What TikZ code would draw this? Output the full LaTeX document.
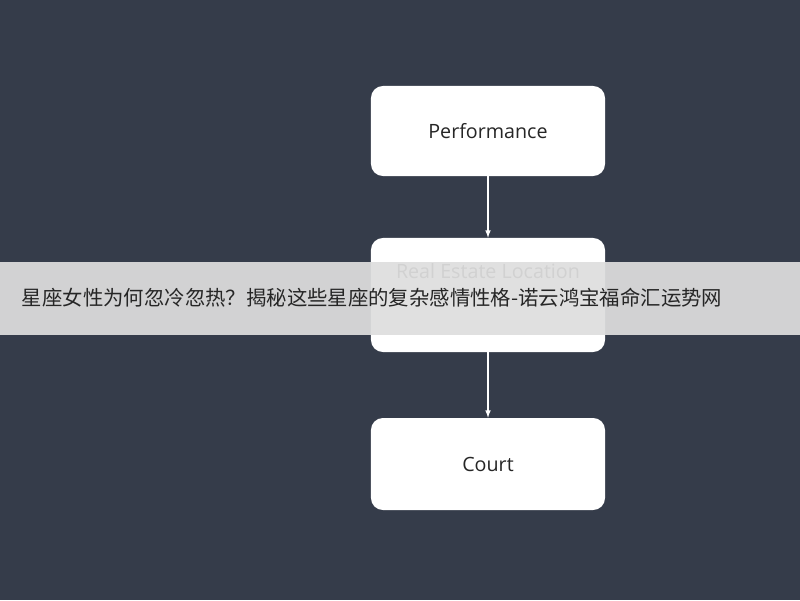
\documentclass[tikz,border=0pt]{standalone}
\usepackage{fontspec}
\setmainfont{Open Sans}
\newfontfamily\cjk{Noto Sans CJK SC}
\usetikzlibrary{positioning}
\definecolor{slate}{RGB}{53,60,74}
\definecolor{banner}{RGB}{222,222,222}
\begin{document}
\begin{tikzpicture}[x=0.025cm, y=-0.025cm,
    stage/.style={fill=white, rounded corners=0.3cm, minimum width=5.85cm,
      font=\fontsize{14}{16}\selectfont, text=black!85},
    flow/.style={draw=white, thick, -latex}]
  \useasboundingbox[fill=slate] (0,0) rectangle (800,600);
  \node[stage, minimum height=2.25cm] (perf) at (488,131) {Performance};
  \node[stage, minimum height=2.85cm, text depth=1.2cm] (loc) at (488,295) {Real Estate Location};
  \node[stage, minimum height=2.3cm] (court) at (488,464) {Court};
  \draw[flow] (perf) -- (loc);
  \draw[flow] (loc) -- (court);
  % banner over the middle box
  \fill[banner, opacity=0.93] (0,262) rectangle (800,335);
  \node[anchor=west, font=\cjk\fontsize{14.5}{16}\selectfont, text=black!85] (title) at (17,298)
    {星座女性为何忽冷忽热？揭秘这些星座的复杂感情性格-诺云鸿宝福命汇运势网};
\end{tikzpicture}
\end{document}
